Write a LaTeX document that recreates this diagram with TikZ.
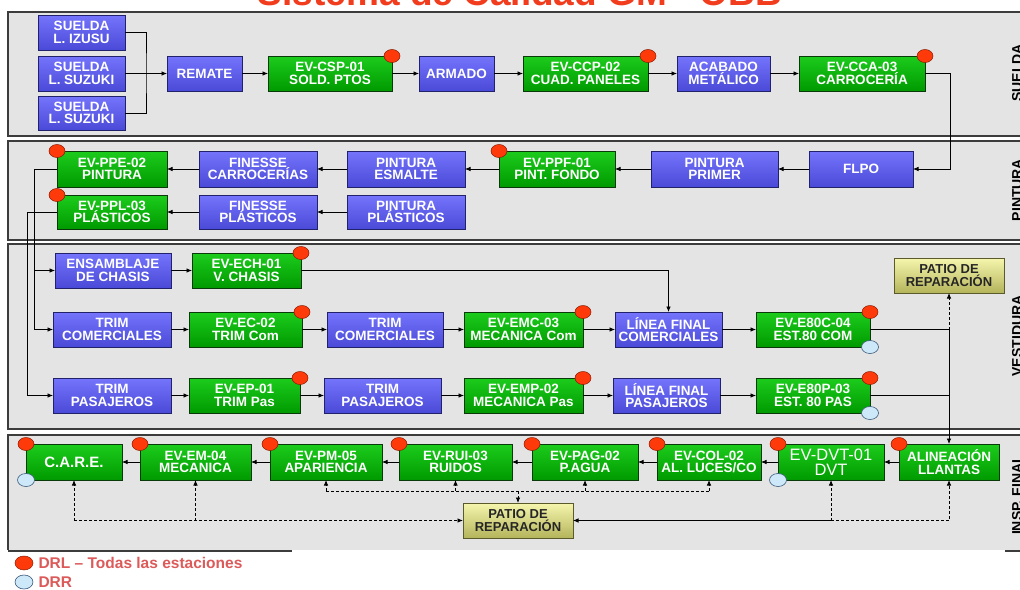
\documentclass[tikz,border=0pt]{standalone}
\usepackage{fontspec}
\setmainfont{Liberation Sans}
\usetikzlibrary{arrows.meta,shapes.geometric}
\definecolor{panelbg}{HTML}{E4E4E4}
\definecolor{panelln}{HTML}{3C3C3C}
\definecolor{bluetop}{HTML}{7474FC}
\definecolor{bluebot}{HTML}{4A4AD8}
\definecolor{blueln}{HTML}{22226A}
\definecolor{greentop}{HTML}{1CCC1C}
\definecolor{greenbot}{HTML}{009A00}
\definecolor{greenln}{HTML}{0A3A0A}
\definecolor{patiotop}{HTML}{F6F6AE}
\definecolor{patiobot}{HTML}{B4B45C}
\definecolor{patioln}{HTML}{5A5A2A}
\definecolor{drl}{HTML}{FF3A0A}
\definecolor{drlln}{HTML}{8A1A00}
\definecolor{drr}{HTML}{CDE8F8}
\definecolor{drrln}{HTML}{3A5A7A}
\definecolor{titlered}{HTML}{F23C1E}
\definecolor{legendred}{HTML}{DC5A5A}
\newcommand\bx[7]{\node[#2, minimum width={(#5-#3)*1pt}, minimum height={(#6-#4)*1pt}] (#1) at ({(#3+#5)/2},{(#4+#6)/2}) {#7};}
\tikzset{
  boxbase/.style={rectangle, draw, line width=0.8pt, inner sep=1pt, outer sep=0pt, align=center,
    font=\bfseries\fontsize{13.5}{12.5}\selectfont, text=white},
  bluebox/.style={boxbase, draw=blueln, top color=bluetop, bottom color=bluebot},
  greenbox/.style={boxbase, draw=greenln, top color=greentop, bottom color=greenbot},
  patio/.style={boxbase, draw=patioln, top color=patiotop, bottom color=patiobot, text=black!85,
    font=\bfseries\fontsize{13}{13}\selectfont},
  redc/.style={ellipse, draw=drlln, fill=drl, line width=0.5pt, minimum width=16pt, minimum height=13pt, inner sep=0pt},
  bluec/.style={ellipse, draw=drrln, fill=drr, line width=0.6pt, minimum width=17pt, minimum height=13pt, inner sep=0pt},
  ln/.style={draw=black, line width=0.7pt},
  arr/.style={ln, -{Latex[length=5.5pt,width=4.5pt]}},
  dsh/.style={dash pattern=on 3pt off 2pt, line width=0.8pt},
  panel/.style={fill=panelbg, draw=panelln, line width=1.5pt},
  seclabel/.style={rotate=90, font=\bfseries\fontsize{14}{14}\selectfont, text=black},
  legtext/.style={anchor=west, font=\bfseries\fontsize{15.5}{16}\selectfont, text=legendred}
}
\begin{document}
\begin{tikzpicture}[x=1pt,y=-1pt]
\useasboundingbox (0,0) rectangle (1020,589);
\fill[white] (0,0) rectangle (1020,589);
% title (top cut off as in the reference)
\node[anchor=base, font=\bfseries\fontsize{37}{37}\selectfont, text=titlered] (title) at (520,5.5) {Sistema de Calidad GM - OBB};
% panels
\path[panel] (8,12) rectangle (1030,136);
\path[panel] (8,141) rectangle (1030,240);
\path[panel] (8,244) rectangle (1030,429);
\fill[panelbg] (8,435) rectangle (1030,550);
\draw[draw=panelln, line width=1.5pt] (1030,435) -- (8,435) -- (8,550);
\draw[draw=panelln, line width=2.2pt] (8,551) -- (292,551);
\draw[draw=panelln, line width=2.2pt] (1005,551) -- (1022,551);
% section labels
\node[seclabel] (lab1) at (1017,73) {SUELDA};
\node[seclabel] (lab2) at (1017,190) {PINTURA};
\node[seclabel] (lab3) at (1017,336) {VESTIDURA};
\node[seclabel] (lab4) at (1017,495) {INSP. FINAL};
% ---------- SUELDA ----------
\bx{s1}{bluebox}{38}{15}{125}{50}{SUELDA\\L. IZUSU}
\bx{s2}{bluebox}{38}{56}{125}{91}{SUELDA\\L. SUZUKI}
\bx{s3}{bluebox}{38}{96}{125}{130}{SUELDA\\L. SUZUKI}
\bx{rem}{bluebox}{167}{56}{242}{91}{REMATE}
\bx{csp}{greenbox}{268}{56}{392}{91}{EV-CSP-01\\SOLD. PTOS}
\bx{arm}{bluebox}{419}{56}{494}{91}{ARMADO}
\bx{ccp}{greenbox}{523}{56}{648}{91}{EV-CCP-02\\CUAD. PANELES}
\bx{aca}{bluebox}{677}{56}{770}{91}{ACABADO\\METÁLICO}
\bx{cca}{greenbox}{799}{56}{925}{91}{EV-CCA-03\\CARROCERÍA}
% ---------- PINTURA ----------
\bx{flpo}{bluebox}{809}{151}{913}{187}{FLPO}
\bx{ppr}{bluebox}{651}{151}{778}{187}{PINTURA\\PRIMER}
\bx{ppf}{greenbox}{499}{151}{615}{187}{EV-PPF-01\\PINT. FONDO}
\bx{pes}{bluebox}{347}{151}{465}{187}{PINTURA\\ESMALTE}
\bx{fca}{bluebox}{199}{151}{317}{187}{FINESSE\\CARROCERÍAS}
\bx{ppe}{greenbox}{57}{151}{167}{187}{EV-PPE-02\\PINTURA}
\bx{ppl}{greenbox}{57}{195}{167}{229}{EV-PPL-03\\PLÁSTICOS}
\bx{fpl}{bluebox}{199}{195}{317}{229}{FINESSE\\PLÁSTICOS}
\bx{ppa}{bluebox}{347}{195}{465}{229}{PINTURA\\PLÁSTICOS}
% ---------- VESTIDURA ----------
\bx{ens}{bluebox}{55}{253}{171}{288}{ENSAMBLAJE\\DE CHASIS}
\bx{ech}{greenbox}{192}{253}{301}{288}{EV-ECH-01\\V. CHASIS}
\bx{tc1}{bluebox}{53}{312}{171}{347}{TRIM\\COMERCIALES}
\bx{ec}{greenbox}{189}{312}{302}{347}{EV-EC-02\\TRIM Com}
\bx{tc2}{bluebox}{327}{312}{443}{347}{TRIM\\COMERCIALES}
\bx{emc}{greenbox}{464}{312}{583}{347}{EV-EMC-03\\MECANICA Com}
\bx{lfc}{bluebox}{615}{312}{722}{347}{LÍNEA FINAL\\COMERCIALES}
\bx{e80c}{greenbox}{756}{312}{870}{347}{EV-E80C-04\\EST.80 COM}
\bx{pat1}{patio}{894}{258}{1004}{293}{PATIO DE\\REPARACIÓN}
\bx{tp1}{bluebox}{53}{378}{171}{413}{TRIM\\PASAJEROS}
\bx{ep}{greenbox}{189}{378}{300}{413}{EV-EP-01\\TRIM Pas}
\bx{tp2}{bluebox}{324}{378}{441}{413}{TRIM\\PASAJEROS}
\bx{emp}{greenbox}{464}{378}{583}{413}{EV-EMP-02\\MECANICA Pas}
\bx{lfp}{bluebox}{613}{378}{720}{413}{LÍNEA FINAL\\PASAJEROS}
\bx{e80p}{greenbox}{756}{378}{870}{413}{EV-E80P-03\\EST. 80 PAS}
% ---------- INSP. FINAL ----------
\bx{alin}{greenbox}{899}{444}{999}{480}{ALINEACIÓN\\LLANTAS}
\bx{dvt}{greenbox, font=\fontsize{16.5}{15}\selectfont}{778}{444}{884}{480}{EV-DVT-01\\DVT}
\bx{col}{greenbox}{657}{444}{761}{480}{EV-COL-02\\AL. LUCES/CO}
\bx{pag}{greenbox}{532}{444}{638}{480}{EV-PAG-02\\P.AGUA}
\bx{rui}{greenbox}{399}{444}{512}{480}{EV-RUI-03\\RUIDOS}
\bx{pm}{greenbox}{270}{444}{382}{480}{EV-PM-05\\APARIENCIA}
\bx{em}{greenbox}{140}{444}{251}{480}{EV-EM-04\\MECANICA}
\bx{care}{greenbox, font=\bfseries\fontsize{15}{15}\selectfont}{26}{444}{122}{480}{C.A.R.E.}
\bx{pat2}{patio}{463}{503}{573}{538}{PATIO DE\\REPARACIÓN}
% ---------- connectors: SUELDA ----------
\coordinate (jS) at (146,73.5);
\draw[ln] (s1.east) -| (jS) |- (s3.east);
\draw[arr] (s2.east) -- (rem.west);
\draw[arr] (rem.east) -- (csp.west);
\draw[arr] (csp.east) -- (arm.west);
\draw[arr] (arm.east) -- (ccp.west);
\draw[arr] (ccp.east) -- (aca.west);
\draw[arr] (aca.east) -- (cca.west);
\coordinate (jA) at (950,73.5);
\draw[arr] (cca.east) -- (jA) |- (flpo.east);
% ---------- connectors: PINTURA ----------
\draw[arr] (flpo.west) -- (ppr.east);
\draw[arr] (ppr.west) -- (ppf.east);
\draw[arr] (ppf.west) -- (pes.east);
\draw[arr] (pes.west) -- (fca.east);
\draw[arr] (fca.west) -- (ppe.east);
\draw[arr] (ppa.west) -- (fpl.east);
\draw[arr] (fpl.west) -- (ppl.east);
\coordinate (jP1) at (34,169);
\coordinate (jP2) at (27,212);
\draw[arr] (ppe.west) -- (jP1) |- (ens.west);
\draw[arr] (jP1) |- (tc1.west);
\draw[arr] (ppl.west) -- (jP2) |- (tp1.west);
% ---------- connectors: VESTIDURA ----------
\draw[arr] (ens.east) -- (ech.west);
\draw[arr] (ech.east) -| (lfc.north);
\draw[arr] (tc1.east) -- (ec.west);
\draw[arr] (ec.east) -- (tc2.west);
\draw[arr] (tc2.east) -- (emc.west);
\draw[arr] (emc.east) -- (lfc.west);
\draw[arr] (lfc.east) -- (e80c.west);
\draw[arr] (tp1.east) -- (ep.west);
\draw[arr] (ep.east) -- (tp2.west);
\draw[arr] (tp2.east) -- (emp.west);
\draw[arr] (emp.east) -- (lfp.west);
\draw[arr] (lfp.east) -- (e80p.west);
\draw[arr] (e80c.east) -| (alin.north);
\draw[ln] (e80p.east) -- (alin.north |- e80p.east);
\draw[arr, dsh] (alin.north |- e80c.east) -- (pat1.south);
% ---------- connectors: INSP. FINAL ----------
\draw[arr] (alin.west) -- (dvt.east);
\draw[arr] (dvt.west) -- (col.east);
\draw[arr] (col.west) -- (pag.east);
\draw[arr] (pag.west) -- (rui.east);
\draw[arr] (rui.west) -- (pm.east);
\draw[arr] (pm.west) -- (em.east);
\draw[arr] (em.west) -- (care.east);
\coordinate (dA) at (0,491);
\draw[ln, dsh] (pm.south |- dA) -- (col.south |- dA);
\draw[arr, dsh] (pm.south |- dA) -- (pm.south);
\draw[arr, dsh] (rui.south |- dA) -- (rui.south);
\draw[arr, dsh] (pag.south |- dA) -- (pag.south);
\draw[arr, dsh] (col.south |- dA) -- (col.south);
\draw[arr, dsh] (pat2.north |- dA) -- (pat2.north);
\draw[arr, dsh] (care.south |- pat2.west) -- (pat2.west);
\draw[arr, dsh] (care.south |- pat2.west) -- (care.south);
\draw[arr, dsh] (em.south |- pat2.west) -- (em.south);
\draw[arr] (dvt.south |- pat2.east) -- (pat2.east);
\draw[arr, dsh] (dvt.south |- pat2.east) -- (dvt.south);
\draw[arr, dsh] (dvt.south |- pat2.east) -| (alin.south);
% ---------- DRL / DRR markers ----------
\node[redc] (r1) at (csp.north east) {};
\node[redc] (r2) at (ccp.north east) {};
\node[redc] (r3) at (cca.north east) {};
\node[redc] (r4) at (ppf.north west) {};
\node[redc] (r5) at (ppe.north west) {};
\node[redc] (r6) at (ppl.north west) {};
\node[redc] (r7) at (ech.north east) {};
\node[redc] (r8) at (ec.north east) {};
\node[redc] (r9) at (emc.north east) {};
\node[redc] (r10) at (e80c.north east) {};
\node[bluec] (b1) at (e80c.south east) {};
\node[redc] (r11) at (ep.north east) {};
\node[redc] (r12) at (emp.north east) {};
\node[redc] (r13) at (e80p.north east) {};
\node[bluec] (b2) at (e80p.south east) {};
\node[redc] (r14) at (alin.north west) {};
\node[redc] (r15) at (dvt.north west) {};
\node[bluec] (b3) at (dvt.south west) {};
\node[redc] (r16) at (col.north west) {};
\node[redc] (r17) at (pag.north west) {};
\node[redc] (r18) at (rui.north west) {};
\node[redc] (r19) at (pm.north west) {};
\node[redc] (r20) at (em.north west) {};
\node[redc] (r21) at (care.north west) {};
\node[bluec] (b4) at (care.south west) {};
% ---------- legend ----------
\node[redc, minimum width=18pt, minimum height=14pt] (lr) at (24,563) {};
\node[legtext] (lt1) at (35,563) {DRL – Todas las estaciones};
\node[bluec, minimum width=18pt, minimum height=14pt] (lb) at (24,582) {};
\node[legtext] (lt2) at (35,582) {DRR};
\end{tikzpicture}
\end{document}
